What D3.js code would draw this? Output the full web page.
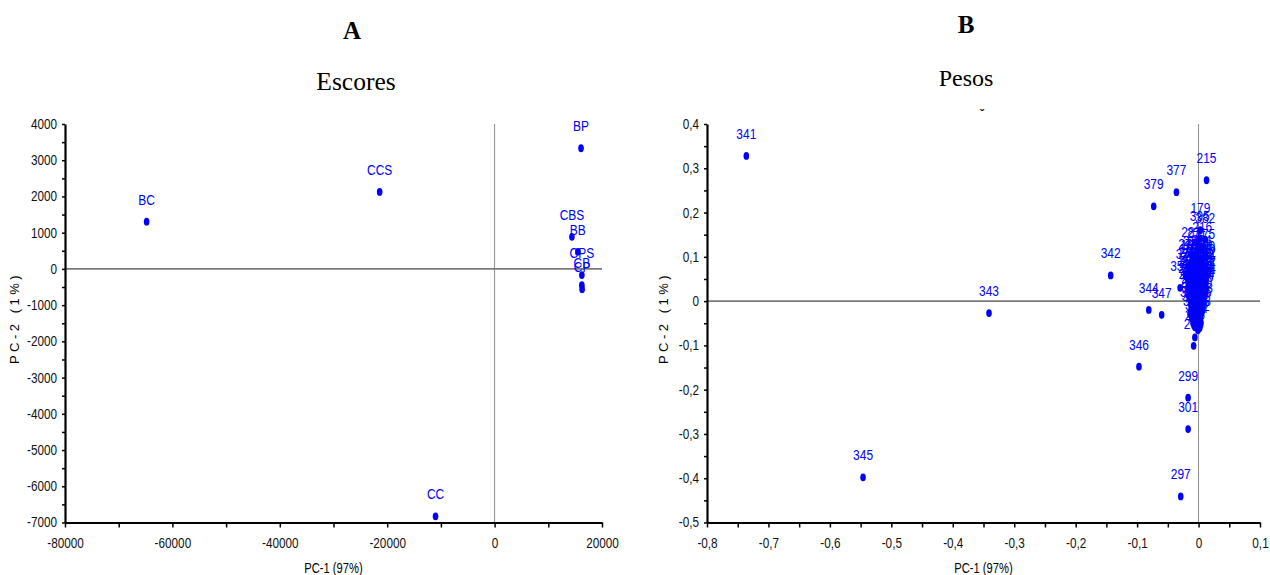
<!DOCTYPE html>
<html>
<head>
<meta charset="utf-8">
<script src="https://cdn.jsdelivr.net/npm/d3@7"></script>
<style>
  body { margin: 0; background: #fff; }
  .narrow { font-family: 'Liberation Sans', Arial, sans-serif; }
  .title { font-family: 'Liberation Serif', 'Times New Roman', serif; fill: #000; }
</style>
</head>
<body>
<div id="chart"></div>
<script>
// ---- data: panel A (scores) ----
var escoresLabels = ["BC", "CCS", "BP", "CBS", "BB", "CPS", "CB", "CP", "CC"];
var escoresPC1 = [-64800, -21400, 16100, 14400, 15500, 16250, 16250, 16300, -11000];
var escoresPC2 = [1305, 2125, 3330, 885, 470, -170, -450, -560, -6830];

// ---- data: panel B (loadings) ----
var pesosLabels = [
  "341","345","343","342","346","344","347","379","377","215","299","301","297","179","293","295","294",
  "395","382","216","281","271","175","275","371","353","186",
  "230","232","234",
  "181","183","185","188","190",
  "192","194","196","198","200",
  "202","204","206","208","210","212",
  "214","218","220","222","224",
  "226","228","236","238","240","242",
  "244","246","248","250","252",
  "254","256","258","260","262","264",
  "266","268","270","272","274",
  "276","278","280","282","284",
  "286","288","290",
  "292","296","298","300",
  "302","304","306","308",
  "310","312","314","316",
  "318","320","322",
  "324","326","328",
  "330","332"
];
var pesosPC1 = [
  -0.736,-0.546,-0.341,-0.143,-0.097,-0.081,-0.060,-0.073,-0.036,0.013,-0.017,-0.017,-0.029,0.003,-0.008,-0.006,-0.001,
  0.002,0.011,0.006,-0.012,-0.003,0.011,-0.017,-0.021,-0.030,0.008,
  -0.009,-0.002,0.005,
  -0.013,-0.006,0.001,0.007,0.011,
  -0.015,-0.008,-0.001,0.005,0.011,
  -0.016,-0.010,-0.004,0.003,0.008,0.012,
  -0.014,-0.007,0.000,0.006,0.011,
  -0.017,-0.011,-0.005,0.002,0.007,0.012,
  -0.015,-0.008,-0.001,0.005,0.010,
  -0.017,-0.012,-0.005,0.001,0.007,0.012,
  -0.014,-0.007,0.000,0.005,0.011,
  -0.016,-0.009,-0.003,0.004,0.009,
  -0.012,-0.005,0.002,
  -0.013,-0.007,0.000,0.006,
  -0.012,-0.006,0.002,0.007,
  -0.014,-0.008,-0.002,0.005,
  -0.011,-0.004,0.003,
  -0.009,-0.002,0.004,
  -0.006,0.002
];
var pesosPC2 = [
  0.328,-0.398,-0.027,0.058,-0.148,-0.020,-0.031,0.214,0.246,0.273,-0.218,-0.289,-0.441,0.160,-0.101,-0.082,-0.066,
  0.142,0.139,0.118,0.107,0.103,0.102,0.080,0.057,0.030,0.005,
  0.087,0.085,0.088,
  0.078,0.076,0.079,0.077,0.075,
  0.068,0.070,0.069,0.067,0.069,
  0.061,0.059,0.061,0.060,0.058,0.061,
  0.051,0.053,0.052,0.050,0.053,
  0.042,0.044,0.043,0.041,0.044,0.042,
  0.036,0.034,0.035,0.037,0.034,
  0.026,0.028,0.027,0.025,0.028,0.026,
  0.020,0.018,0.019,0.021,0.018,
  0.012,0.010,0.011,0.013,0.011,
  0.003,0.004,0.002,
  -0.007,-0.009,-0.008,-0.006,
  -0.018,-0.019,-0.017,-0.020,
  -0.029,-0.027,-0.030,-0.028,
  -0.039,-0.041,-0.040,
  -0.050,-0.051,-0.049,
  -0.059,-0.061
];

// ---- tick values ----
var xTicksA = [-80000, -60000, -40000, -20000, 0, 20000];
var xMinorA = [-70000, -50000, -30000, -10000, 10000];
var yTicksA = [-7000, -6000, -5000, -4000, -3000, -2000, -1000, 0, 1000, 2000, 3000, 4000];
var yMinorA = [-6500, -5500, -4500, -3500, -2500, -1500, -500, 500, 1500, 2500, 3500];
var xTicksB = [-0.8, -0.7, -0.6, -0.5, -0.4, -0.3, -0.2, -0.1, 0, 0.1];
var xMinorB = [-0.75, -0.65, -0.55, -0.45, -0.35, -0.25, -0.15, -0.05, 0.05];
var yTicksB = [-0.5, -0.4, -0.3, -0.2, -0.1, 0, 0.1, 0.2, 0.3, 0.4];
var yMinorB = [-0.45, -0.35, -0.25, -0.15, -0.05, 0.05, 0.15, 0.25, 0.35];

var width = 1270, height = 575;
var blue = "#0000ff";

var svg = d3.select("#chart")
  .append("svg")
    .attr("width", width)
    .attr("height", height);

var ptLocale = d3.formatLocale({decimal: ",", thousands: ".", grouping: [3], currency: ["", ""], minus: "-"});
var fmtA = ptLocale.format("d");
var fmtB = ptLocale.format("~g");

// squeeze text horizontally (the original uses a condensed face)
function condense(sel, k) {
  sel.each(function() {
    var t = d3.select(this);
    var x0 = +t.attr("x") || 0;
    t.attr("x", x0 / k).attr("transform", "scale(" + k + ",1)");
  });
}

function drawPanel(p) {
  var x = d3.scaleLinear().domain(p.xDomain).range([p.left, p.right]);
  var y = d3.scaleLinear().domain(p.yDomain).range([p.bottom, p.top]);
  var g = svg.append("g");

  // zero lines
  g.append("line")
    .attr("x1", x(0)).attr("x2", x(0))
    .attr("y1", p.top).attr("y2", p.bottom)
    .attr("stroke", "#8c8c8c").attr("stroke-width", 1);
  g.append("line")
    .attr("x1", p.left).attr("x2", p.right)
    .attr("y1", y(0)).attr("y2", y(0))
    .attr("stroke", "#7a7a7a").attr("stroke-width", 1.6);

  // minor ticks
  g.append("g")
    .attr("transform", "translate(0," + p.bottom + ")")
    .call(d3.axisBottom(x).tickValues(p.xMinor).tickSize(5).tickFormat(""))
    .call(function(a) { a.select(".domain").remove(); a.selectAll("line").attr("stroke-width", 1.5); });
  g.append("g")
    .attr("transform", "translate(" + p.left + ",0)")
    .call(d3.axisLeft(y).tickValues(p.yMinor).tickSize(3).tickFormat(""))
    .call(function(a) { a.select(".domain").remove(); a.selectAll("line").attr("stroke-width", 1.5); });

  // main axes
  var xa = g.append("g")
    .attr("transform", "translate(0," + p.bottom + ")")
    .call(d3.axisBottom(x).tickValues(p.xTicks).tickSize(5).tickSizeOuter(0).tickPadding(11).tickFormat(p.fmt));
  var ya = g.append("g")
    .attr("transform", "translate(" + p.left + ",0)")
    .call(d3.axisLeft(y).tickValues(p.yTicks).tickSize(3).tickSizeOuter(0).tickPadding(5).tickFormat(p.fmt));
  [xa, ya].forEach(function(a) {
    a.select(".domain").attr("stroke-width", 2.2);
    a.selectAll("line").attr("stroke-width", 1.5);
    a.selectAll("text")
      .attr("class", "narrow")
      .style("font-size", "14px")
      .attr("fill", "#111")
      .call(condense, 0.84);
  });

  // axis titles
  g.append("text")
    .attr("class", "narrow")
    .attr("x", (p.left + p.right) / 2)
    .attr("y", 573)
    .attr("text-anchor", "middle")
    .style("font-size", "14px")
    .text("PC-1 (97%)")
    .call(condense, 0.8);
  g.append("text")
    .attr("transform", "translate(" + p.yTitleX + ",318)rotate(-90)")
    .attr("text-anchor", "middle")
    .style("font-family", "'Liberation Sans', Arial, sans-serif")
    .style("font-size", "13px")
    .style("letter-spacing", "3.5px")
    .text("PC-2 (1%)");

  // points
  g.selectAll("ellipse.pt")
    .data(p.pc1)
    .enter()
    .append("ellipse")
      .attr("class", "pt")
      .attr("cx", function(d) { return x(d); })
      .attr("cy", function(d, i) { return y(p.pc2[i]); })
      .attr("rx", 2.8)
      .attr("ry", 3.9)
      .attr("fill", blue);

  g.selectAll("text.lbl")
    .data(p.labels)
    .enter()
    .append("text")
      .attr("class", "lbl narrow")
      .attr("x", function(d, i) { return x(p.pc1[i]); })
      .attr("y", function(d, i) { return y(p.pc2[i]) - 17; })
      .attr("text-anchor", "middle")
      .style("font-size", "15.5px")
      .attr("fill", blue)
      .text(function(d) { return d; })
      .call(condense, 0.77);

  // panel titles
  svg.append("text")
    .attr("class", "title")
    .attr("x", p.letterX)
    .attr("y", p.letterY)
    .attr("text-anchor", "middle")
    .style("font-size", "25px")
    .style("font-weight", "bold")
    .text(p.letter);
  svg.append("text")
    .attr("class", "title")
    .attr("x", p.titleX)
    .attr("y", p.titleY)
    .attr("text-anchor", "middle")
    .style("font-size", p.titleSize)
    .text(p.title);
}

drawPanel({
  xDomain: [-80000, 20000], yDomain: [-7000, 4000],
  left: 65, right: 602, top: 124, bottom: 522.5, yTitleX: 19,
  xTicks: xTicksA, xMinor: xMinorA, yTicks: yTicksA, yMinor: yMinorA, fmt: fmtA,
  pc1: escoresPC1, pc2: escoresPC2, labels: escoresLabels,
  letter: "A", letterX: 352, letterY: 39, title: "Escores", titleX: 356, titleY: 90, titleSize: "25.5px"
});

drawPanel({
  xDomain: [-0.8, 0.1], yDomain: [-0.5, 0.4],
  left: 707, right: 1260, top: 124, bottom: 522.5, yTitleX: 668,
  xTicks: xTicksB, xMinor: xMinorB, yTicks: yTicksB, yMinor: yMinorB, fmt: fmtB,
  pc1: pesosPC1, pc2: pesosPC2, labels: pesosLabels,
  letter: "B", letterX: 966, letterY: 33, title: "Pesos", titleX: 966, titleY: 86, titleSize: "24px"
});

// small stray mark above panel B
svg.append("text")
  .attr("x", 982)
  .attr("y", 119)
  .attr("text-anchor", "middle")
  .style("font-family", "'Liberation Sans', Arial, sans-serif")
  .style("font-size", "12px")
  .style("font-weight", "bold")
  .text("ˇ");
</script>
</body>
</html>
